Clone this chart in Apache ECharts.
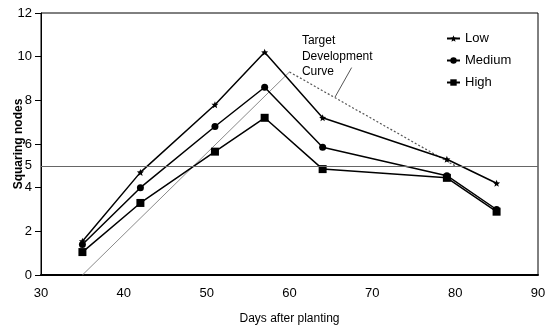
<!DOCTYPE html>
<html>
<head>
<meta charset="utf-8">
<script src="https://cdn.jsdelivr.net/npm/echarts@6/dist/echarts.min.js"></script>
<style>html,body{margin:0;padding:0;background:#fff}#c{width:550px;height:331px}</style>
</head>
<body>
<div id="c"></div>
<script>
var days = [35, 42, 51, 57, 64, 79, 85];
var lowVals = [1.55, 4.7, 7.8, 10.2, 7.2, 5.3, 4.2];
var mediumVals = [1.4, 4.0, 6.8, 8.6, 5.85, 4.55, 3.0];
var highVals = [1.05, 3.3, 5.65, 7.2, 4.85, 4.45, 2.9];
var targetRiseX = [35, 60];
var targetRiseY = [0, 9.3];
var targetFallX = [60, 80];
var targetFallY = [9.3, 5.0];
var thresholdValue = 5;
var yTicks = [0, 2, 4, 6, 8, 10, 12];
var xTicks = [30, 40, 50, 60, 70, 80, 90];

function pairs(xs, ys) { return xs.map(function (x, i) { return [x, ys[i]]; }); }

var FONT = 'Liberation Sans, Arial, sans-serif';
var starPath = 'path://M0,-10 L2.6,-3.6 9.5,-3.1 4.2,1.4 5.9,8.1 0,4.4 -5.9,8.1 -4.2,1.4 -9.5,-3.1 -2.6,-3.6 Z';

var chart = echarts.init(document.getElementById('c'));
var option = {
  animation: false,
  backgroundColor: '#fff',
  textStyle: { fontFamily: FONT },
  grid: { left: 41, right: 12, top: 13, bottom: 56, containLabel: false, outerBoundsMode: 'none',
          show: true, borderColor: '#000', borderWidth: 1, backgroundColor: 'transparent' },
  legend: {
    data: ['Low', 'Medium', 'High'],
    orient: 'vertical',
    left: 441, top: 27,
    itemWidth: 13, itemHeight: 8, itemGap: 9,
    textStyle: { fontFamily: FONT, fontSize: 13, color: '#000' },
    inactiveColor: '#000'
  },
  xAxis: {
    type: 'value', min: xTicks[0], max: xTicks[xTicks.length - 1], interval: 10,
    name: 'Days after planting', nameLocation: 'middle', nameGap: 38,
    nameTextStyle: { fontFamily: FONT, fontSize: 12, color: '#000' },
    axisLine: { lineStyle: { color: '#000', width: 2 } },
    axisTick: { show: false },
    splitLine: { show: false },
    axisLabel: { fontFamily: FONT, fontSize: 13, color: '#000', margin: 12 }
  },
  yAxis: {
    type: 'value', min: yTicks[0], max: yTicks[yTicks.length - 1], interval: 2,
    name: 'Squaring nodes', nameLocation: 'middle', nameGap: 16, nameRotate: 90,
    nameMoveOverlap: false,
    nameTextStyle: { fontFamily: FONT, fontSize: 12, fontWeight: 'bold', color: '#000' },
    axisLine: { show: true, lineStyle: { color: '#000', width: 1 } },
    axisTick: { show: true, inside: false, length: 6, lineStyle: { color: '#000' } },
    splitLine: { show: false },
    axisLabel: { fontFamily: FONT, fontSize: 13, color: '#000', margin: 9 }
  },
  series: [
    {
      name: 'Target rise', type: 'line', data: pairs(targetRiseX, targetRiseY),
      symbol: 'none', lineStyle: { color: '#8a8a8a', width: 1 }, z: 1,
      markLine: {
        silent: true, symbol: 'none',
        lineStyle: { color: '#666', width: 1.2, type: 'solid' },
        label: { show: true, position: 'start', formatter: String(thresholdValue), fontFamily: FONT, fontSize: 13, color: '#000', distance: 9 },
        data: [{ yAxis: thresholdValue }]
      }
    },
    {
      name: 'Target fall', type: 'line', data: pairs(targetFallX, targetFallY),
      symbol: 'none', lineStyle: { color: '#555', width: 1.2, type: [2, 2] }, z: 1
    },
    {
      name: 'Low', type: 'line', data: pairs(days, lowVals),
      symbol: starPath, symbolSize: 7,
      itemStyle: { color: '#000' }, lineStyle: { color: '#000', width: 1.5 }, z: 3
    },
    {
      name: 'Medium', type: 'line', data: pairs(days, mediumVals),
      symbol: 'circle', symbolSize: 7,
      itemStyle: { color: '#000' }, lineStyle: { color: '#000', width: 1.5 }, z: 3
    },
    {
      name: 'High', type: 'line', data: pairs(days, highVals),
      symbol: 'rect', symbolSize: 8,
      itemStyle: { color: '#000' }, lineStyle: { color: '#000', width: 1.5 }, z: 3
    }
  ]
};
chart.setOption(option);

// Annotation for the target curve, anchored in data coordinates
var labelAnchor = chart.convertToPixel({ gridIndex: 0 }, [61.5, 10.75]);
var leadStart = chart.convertToPixel({ gridIndex: 0 }, [67.5, 9.5]);
var leadEnd = chart.convertToPixel({ gridIndex: 0 }, [65.5, 8.15]);
chart.setOption({
  graphic: [
    {
      type: 'text', left: labelAnchor[0], top: labelAnchor[1] - 7,
      style: { text: 'Target\nDevelopment\nCurve', fontFamily: FONT, fontSize: 12, lineHeight: 15.5, fill: '#000' }
    },
    {
      type: 'line', shape: { x1: leadStart[0], y1: leadStart[1], x2: leadEnd[0], y2: leadEnd[1] },
      style: { stroke: '#555', lineWidth: 1 }
    }
  ]
});
</script>
</body>
</html>
